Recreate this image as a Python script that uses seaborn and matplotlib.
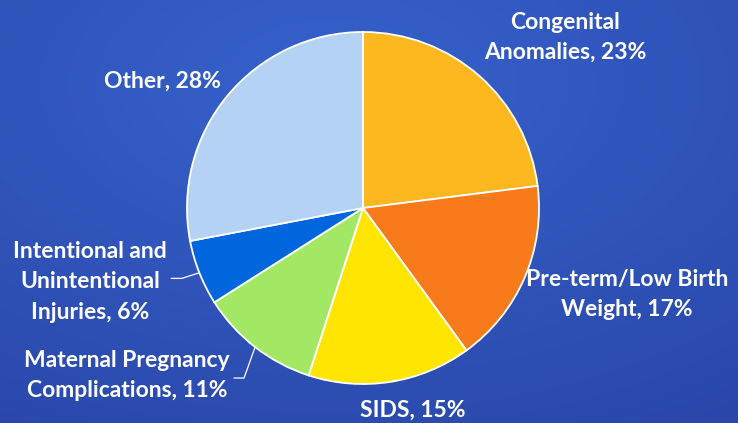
import numpy as np
import matplotlib
matplotlib.use("Agg")
import matplotlib.pyplot as plt
import seaborn as sns

# Datos del grafico (causas de mortalidad infantil)
causas = ["Congenital\nAnomalies", "Pre-term/Low Birth\nWeight", "SIDS",
          "Maternal Pregnancy\nComplications", "Intentional and\nUnintentional\nInjuries", "Other"]
porcentajes = [23, 17, 15, 11, 6, 28]
colores = ["#FDB71F", "#F77B1B", "#FFE500", "#A3E864", "#0066DD", "#B4D2F4"]

sns.set_style("white")
plt.rcParams['font.family'] = ['Lato', 'DejaVu Sans']

fig = plt.figure(figsize=(7.38, 4.23), dpi=100)

# Fondo azul con degradado suave
bg = fig.add_axes([0, 0, 1, 1])
yy, xx = np.mgrid[0:1:200j, 0:1:300j]
dist = np.sqrt((xx - 0.45) ** 2 + (yy - 0.2) ** 2)
c1 = np.array([0x36, 0x62, 0xCC]) / 255
c2 = np.array([0x29, 0x46, 0xA8]) / 255
t = np.clip(dist / 1.0, 0, 1)[..., None]
bg.imshow(c1 * (1 - t) + c2 * t, aspect="auto", extent=[0, 1, 0, 1], origin="upper")
bg.axis("off")

# Pastel
W, H = 738, 423
cx, cy, r = 363, 208, 176
ax = fig.add_axes([(cx - r) / W, (H - cy - r) / H, 2 * r / W, 2 * r / H])
wedges, _ = ax.pie(porcentajes, colors=colores, startangle=90, counterclock=False,
                   radius=1, wedgeprops=dict(edgecolor="white", linewidth=1.3))
ax.set_xlim(-1, 1)
ax.set_ylim(-1, 1)
ax.set_aspect("equal")
ax.axis("off")

# Posiciones de etiquetas (en unidades de radio)
pos_etiquetas = [(1.15, 0.97), (1.50, -0.49), (0.28, -1.15),
                 (-1.34, -0.95), (-1.55, -0.42), (-1.14, 0.72)]

for w, nombre, p, (lx, ly) in zip(wedges, causas, porcentajes, pos_etiquetas):
    ax.text(lx, ly, f"{nombre}, {p}%", color="white", fontsize=16.5, fontweight="bold",
            ha="center", va="center", linespacing=1.55, clip_on=False)

# Lineas guia para las etiquetas pequenas
guias = {3: (-0.676, -0.966, -0.733), 4: (-1.03, -0.40, -1.09)}
for i, (ex, ey, fx) in guias.items():
    ang = np.deg2rad((wedges[i].theta1 + wedges[i].theta2) / 2)
    px, py = np.cos(ang), np.sin(ang)
    ax.plot([px, ex, fx], [py, ey, ey], color="white", lw=0.9, clip_on=False)

plt.savefig("out.png", dpi=100)
